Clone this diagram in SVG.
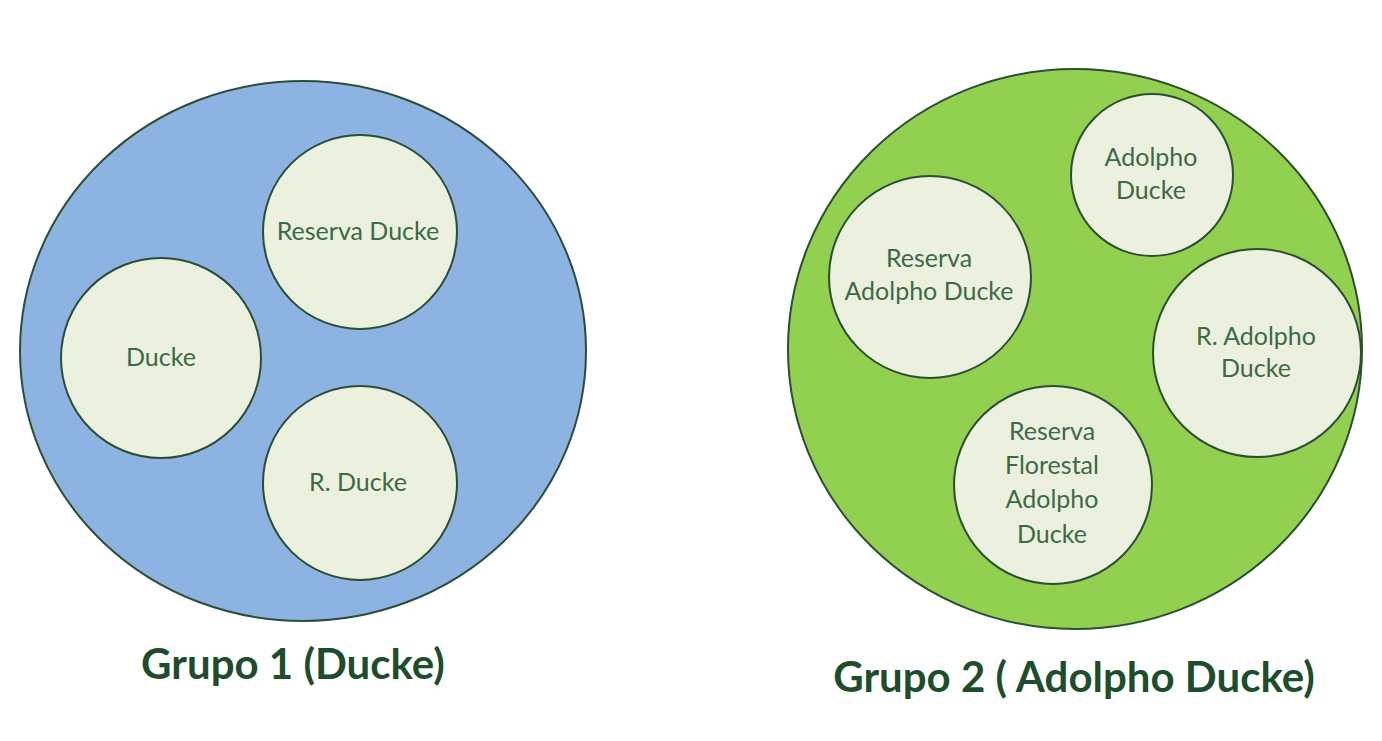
<svg xmlns="http://www.w3.org/2000/svg" width="1382" height="741" viewBox="0 0 1382 741">
<style>
.outer{stroke:#2a4f33;stroke-width:2}
.blue{fill:#8db3e2}
.green{fill:#92d050}
.inner{fill:#ebf1de;stroke:#2a4f33;stroke-width:2}
.t{font-family:Lato,"Open Sans",sans-serif;font-size:25px;fill:#3b6b45;text-anchor:middle}
.title{font-family:Lato,"Open Sans",sans-serif;font-size:42px;font-weight:bold;fill:#1e4d2b;text-anchor:middle}
</style>
<rect width="1382" height="741" fill="#ffffff"/>
<g id="grupo1">
<ellipse class="outer blue" cx="303" cy="351" rx="283" ry="270"/>
<text class="title" x="293" y="679">Grupo 1 (Ducke)</text>
</g>
<g id="grupo2">
<ellipse class="outer green" cx="1075" cy="349" rx="287" ry="280"/>
<text class="title" x="1074" y="692">Grupo 2 ( Adolpho Ducke)</text>
</g>
<g id="reserva-ducke">
<circle class="inner" cx="360" cy="232" r="97"/>
<text class="t" x="358" y="240">Reserva Ducke</text>
</g>
<g id="ducke">
<circle class="inner" cx="161" cy="358" r="100"/>
<text class="t" x="161" y="366">Ducke</text>
</g>
<g id="r-ducke">
<circle class="inner" cx="360" cy="483" r="97"/>
<text class="t" x="358" y="491">R. Ducke</text>
</g>
<g id="adolpho-ducke">
<circle class="inner" cx="1152" cy="175" r="81"/>
<text class="t" x="1151" y="166">Adolpho</text>
<text class="t" x="1151" y="199">Ducke</text>
</g>
<g id="reserva-adolpho-ducke">
<circle class="inner" cx="930" cy="277" r="101"/>
<text class="t" x="929" y="267">Reserva</text>
<text class="t" x="929" y="300">Adolpho Ducke</text>
</g>
<g id="r-adolpho-ducke">
<circle class="inner" cx="1257" cy="353" r="104"/>
<text class="t" x="1256" y="345">R. Adolpho</text>
<text class="t" x="1256" y="377">Ducke</text>
</g>
<g id="reserva-florestal-adolpho-ducke">
<circle class="inner" cx="1053" cy="485" r="99"/>
<text class="t" x="1052" y="440">Reserva</text>
<text class="t" x="1052" y="474">Florestal</text>
<text class="t" x="1052" y="508">Adolpho</text>
<text class="t" x="1052" y="543">Ducke</text>
</g>
<g id="connectors"></g>
</svg>
